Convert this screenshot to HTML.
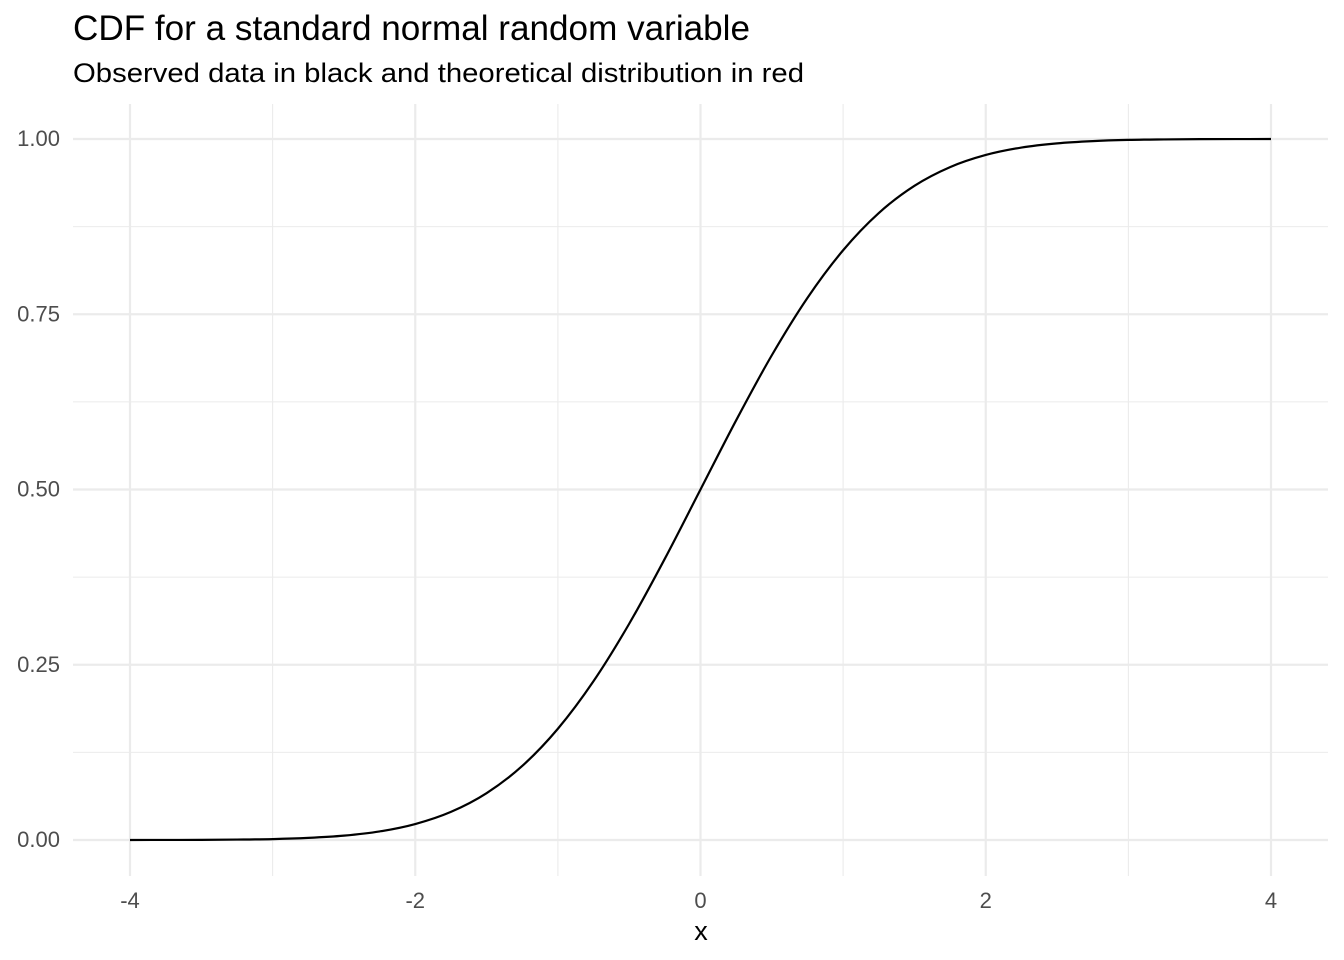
<!DOCTYPE html>
<html><head><meta charset="utf-8"><style>
body{margin:0;background:#fff;}
svg{display:block;font-family:"Liberation Sans",Arial,sans-serif;}
</style></head><body>
<svg id="chart" width="1344" height="960">
<text x="73" y="40" font-size="35" fill="#000" textLength="677" lengthAdjust="spacingAndGlyphs">CDF for a standard normal random variable</text>
<text x="73" y="82" font-size="27" fill="#000" textLength="731" lengthAdjust="spacingAndGlyphs">Observed data in black and theoretical distribution in red</text>
<g id="grid"></g>
<g id="ticks"></g>
<path id="curve" fill="none" stroke="#000" stroke-width="2.2"/>
<text x="701" y="940" font-size="27" text-anchor="middle" fill="#000">x</text>
</svg>
<script>
const xValues=[-4,-3.75,-3.5,-3.25,-3,-2.75,-2.5,-2.25,-2,-1.75,-1.5,-1.25,-1,-0.75,-0.5,-0.25,0,0.25,0.5,0.75,1,1.25,1.5,1.75,2,2.25,2.5,2.75,3,3.25,3.5,3.75,4];
const yValues=[0.0000,0.0001,0.0002,0.0006,0.0013,0.0030,0.0062,0.0122,0.0228,0.0401,0.0668,0.1056,0.1587,0.2266,0.3085,0.4013,0.5,0.5987,0.6915,0.7734,0.8413,0.8944,0.9332,0.9599,0.9772,0.9878,0.9938,0.9970,0.9987,0.9994,0.9998,0.9999,1.0000];
const xMajor=[-4,-2,0,2,4];
const xMinor=[-3,-1,1,3];
const yMajor=[0,0.25,0.5,0.75,1];
const yMinor=[0.125,0.375,0.625,0.875];
const yLabels=["0.00","0.25","0.50","0.75","1.00"];
const xLabels=["-4","-2","0","2","4"];
const X=v=>130+(v+4)*(1271-130)/8;
const Y=v=>840-v*(840-139);
const NS='http://www.w3.org/2000/svg';
const grid=document.getElementById('grid'),ticks=document.getElementById('ticks');
function line(x1,y1,x2,y2,w,name){const l=document.createElementNS(NS,'line');
l.setAttribute('x1',x1);l.setAttribute('y1',y1);l.setAttribute('x2',x2);l.setAttribute('y2',y2);
l.setAttribute('stroke','#ebebeb');l.setAttribute('stroke-width',w);


grid.appendChild(l);}
yMinor.forEach(v=>line(73,Y(v),1328,Y(v),1.1,'y-minor-gridline'));
xMinor.forEach(v=>line(X(v),104,X(v),876,1.1,'x-minor-gridline'));
yMajor.forEach(v=>line(73,Y(v),1328,Y(v),2.2,'y-major-gridline'));
xMajor.forEach(v=>line(X(v),104,X(v),876,2.2,'x-major-gridline'));
function txt(x,y,s,anchor,name){const t=document.createElementNS(NS,'text');
t.setAttribute('x',x);t.setAttribute('y',y);t.setAttribute('font-size','22');t.setAttribute('fill','#4d4d4d');
t.setAttribute('text-anchor',anchor);t.textContent=s;


ticks.appendChild(t);}
yMajor.forEach((v,i)=>txt(60,Y(v)+7,yLabels[i],'end','y-tick-label'));
xMajor.forEach((v,i)=>txt(X(v),908,xLabels[i],'middle','x-tick-label'));
const pts=xValues.map((v,i)=>[X(v),Y(yValues[i])]);
let d='M'+pts[0][0]+','+pts[0][1];
for(let i=0;i<pts.length-1;i++){const p0=pts[Math.max(0,i-1)],p1=pts[i],p2=pts[i+1],p3=pts[Math.min(pts.length-1,i+2)];
d+=' C'+(p1[0]+(p2[0]-p0[0])/6)+','+(p1[1]+(p2[1]-p0[1])/6)+' '+(p2[0]-(p3[0]-p1[0])/6)+','+(p2[1]-(p3[1]-p1[1])/6)+' '+p2[0]+','+p2[1];}
document.getElementById('curve').setAttribute('d',d);
</script>
</body></html>
